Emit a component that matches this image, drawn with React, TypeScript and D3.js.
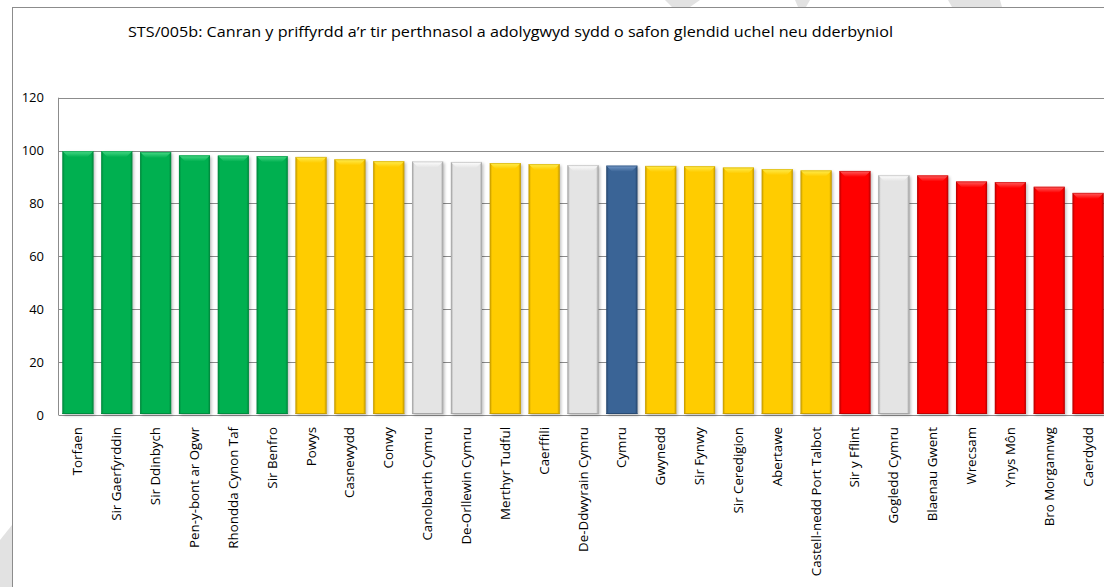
import React from "react";
import * as d3 from "d3";

const categories = [
  "Torfaen", "Sir Gaerfyrddin", "Sir Ddinbych", "Pen-y-bont ar Ogwr", "Rhondda Cynon Taf",
  "Sir Benfro", "Powys", "Casnewydd", "Conwy", "Canolbarth Cymru", "De-Orllewin Cymru",
  "Merthyr Tudful", "Caerffili", "De-Ddwyrain Cymru", "Cymru", "Gwynedd", "Sir Fynwy",
  "Sir Ceredigion", "Abertawe", "Castell-nedd Port Talbot", "Sir y Fflint", "Gogledd Cymru",
  "Blaenau Gwent", "Wrecsam", "Ynys Môn", "Bro Morgannwg", "Caerdydd",
];
const values = [
  99.8, 99.8, 99.5, 98.2, 98.1, 97.9, 97.6, 96.7, 96.0, 95.9, 95.7, 95.3, 94.9, 94.5, 94.3,
  94.2, 94.1, 93.6, 93.0, 92.5, 92.3, 90.7, 90.6, 88.3, 88.1, 86.3, 84.0,
];
const groups = [
  "green", "green", "green", "green", "green", "green", "yellow", "yellow", "yellow", "white",
  "white", "yellow", "yellow", "white", "blue", "yellow", "yellow", "yellow", "yellow", "yellow",
  "red", "white", "red", "red", "red", "red", "red",
];
const yTicks = [0, 20, 40, 60, 80, 100, 120];
const title = "STS/005b: Canran y priffyrdd a’r tir perthnasol a adolygwyd sydd o safon glendid uchel neu dderbyniol";

const palette: Record<string, { base: string; light: string; dark: string }> = {
  green: { base: "#00B050", light: "#4ADB88", dark: "#008A3E" },
  yellow: { base: "#FFCC00", light: "#FFEE50", dark: "#C89E00" },
  white: { base: "#E4E4E4", light: "#FFFFFF", dark: "#A6A6A6" },
  blue: { base: "#3A6496", light: "#7398C8", dark: "#284A72" },
  red: { base: "#FF0000", light: "#FF6060", dark: "#BE0000" },
};

const W = 1104;
const H = 587;
const plotLeft = 58.5;
const plotRight = 1107.5;
const plotTop = 97.7;
const plotBottom = 415;
const FONT = "'Open Sans', 'Noto Sans', sans-serif";

export default function App() {
  const x = d3.scaleBand<string>().domain(categories).range([plotLeft, plotRight]).paddingInner(0.2).paddingOuter(0.1);
  const y = d3.scaleLinear().domain([0, 120]).range([plotBottom, plotTop]);
  const bw = x.bandwidth();
  const b = 6;

  return (
    <svg width={W} height={H} style={{ position: "absolute", left: 0, top: 0, background: "#fff" }}>
      <defs>
        {Object.entries(palette).map(([k, c]) => (
          <React.Fragment key={k}>
            <linearGradient id={`body-${k}`} x1="0" x2="1" y1="0" y2="0">
              <stop offset="0" stopColor={c.dark} />
              <stop offset="0.08" stopColor={c.base} />
              <stop offset="0.92" stopColor={c.base} />
              <stop offset="1" stopColor={c.dark} />
            </linearGradient>
            <linearGradient id={`top-${k}`} x1="0" x2="0" y1="0" y2="1">
              <stop offset="0" stopColor={c.light} />
              <stop offset="1" stopColor={c.base} />
            </linearGradient>
          </React.Fragment>
        ))}
        <filter id="shadow" x="-20%" y="-5%" width="140%" height="110%">
          <feGaussianBlur stdDeviation="1.5" />
        </filter>
      </defs>

      {/* faint background shapes outside frame */}
      <g fill="#e2e2e2">
        <polygon points="665,0 700,0 690,7 672,7" />
        <polygon points="795,0 810,0 806,7 798,7" />
        <polygon points="948,0 1000,0 1002,7 952,7" />
        <polygon points="0,540 12,525 12,587 0,587" />
      </g>

      {/* chart frame */}
      <rect x={12.5} y={7.5} width={W + 20} height={H + 20} fill="#fff" stroke="#8c8c8c" strokeWidth={1} />

      {/* title */}
      <text x={510.5} y={37} textAnchor="middle" fontFamily={FONT} fontSize={15} textLength={765} lengthAdjust="spacingAndGlyphs" fill="#000">
        {title}
      </text>

      {/* gridlines */}
      {yTicks.map((t) => (
        <line key={t} x1={plotLeft} x2={W} y1={Math.round(y(t)) + 0.5} y2={Math.round(y(t)) + 0.5} stroke="#8c8c8c" strokeWidth={1} />
      ))}
      <line x1={plotLeft} x2={plotLeft} y1={plotTop} y2={plotBottom} stroke="#8c8c8c" strokeWidth={1} />

      {/* y tick labels */}
      {yTicks.map((t) => (
        <text key={t} x={44} y={y(t) + 4.5} textAnchor="end" fontFamily={FONT} fontSize={13} fill="#000">
          {t}
        </text>
      ))}

      {/* bars */}
      {categories.map((c, i) => {
        const x0 = x(c)!;
        const top = y(values[i]);
        const bottom = plotBottom - 1;
        const g = groups[i];
        const pc = palette[g];
        return (
          <g key={c}>
            <rect x={x0 + 1.5} y={top + 1.5} width={bw} height={bottom - top} fill="#000" opacity={0.25} filter="url(#shadow)" />
            <rect x={x0} y={top} width={bw} height={bottom - top} fill={`url(#body-${g})`} />
            <polygon
              points={`${x0},${top} ${x0 + bw},${top} ${x0 + bw - b},${top + b} ${x0 + b},${top + b}`}
              fill={`url(#top-${g})`}
            />
            <line x1={x0} x2={x0 + bw} y1={bottom - 0.5} y2={bottom - 0.5} stroke={pc.dark} strokeWidth={1} />
            <rect x={x0 + 0.5} y={top + 0.5} width={bw - 1} height={bottom - top - 1} fill="none" stroke={pc.dark} strokeOpacity={0.5} strokeWidth={1} />
          </g>
        );
      })}

      {/* x labels */}
      {categories.map((c) => {
        const cx = x(c)! + bw / 2;
        return (
          <text
            key={c}
            transform={`translate(${cx + 4.5},427) rotate(-90)`}
            textAnchor="end"
            fontFamily={FONT}
            fontSize={13.3}
            fill="#000"
          >
            {c}
          </text>
        );
      })}
    </svg>
  );
}
